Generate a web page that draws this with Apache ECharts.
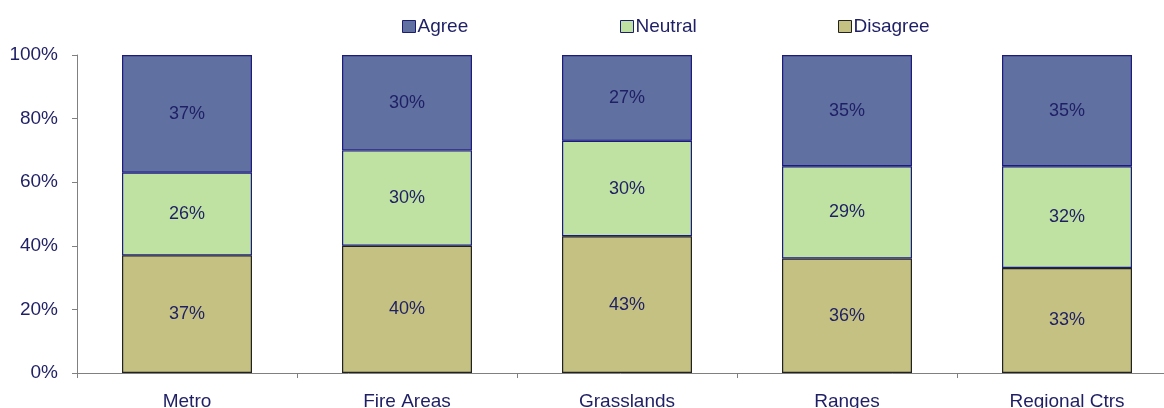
<!DOCTYPE html>
<html>
<head>
<meta charset="utf-8">
<script src="https://cdn.jsdelivr.net/npm/echarts@6/dist/echarts.min.js"></script>
<style>
  html, body { margin: 0; padding: 0; background: #fff; }
  #main { width: 1164px; height: 408px; }
</style>
</head>
<body>
<div id="main"></div>
<script>
// data
var categories = ['Metro', 'Fire Areas', 'Grasslands', 'Ranges', 'Regional Ctrs'];
var disagree = [37, 40, 43, 36, 33];
var neutral = [26, 30, 30, 29, 32];
var agree = [37, 30, 27, 35, 35];
var yTicks = [0, 20, 40, 60, 80, 100];

var textColor = '#1f1f66';
var font = 'Liberation Sans, Arial, sans-serif';

var myChart = echarts.init(document.getElementById('main'));

function legendAt(name, left, border) {
    return {
        data: [{ name: name, itemStyle: { borderColor: border, borderWidth: 1 } }],
        left: left,
        top: 17,
        padding: 0,
        icon: 'rect',
        itemWidth: 13,
        itemHeight: 12,
        itemGap: 2,
        textStyle: { color: textColor, fontSize: 19, fontFamily: font, padding: [0, 0, 0, -3] }
    };
}

function barSeries(name, data, color, border) {
    return {
        name: name,
        type: 'bar',
        stack: 'total',
        barWidth: 130,
        data: data,
        itemStyle: { color: color, borderColor: border, borderWidth: 1.2 },
        label: {
            show: true,
            position: 'inside',
            formatter: '{c}%',
            color: textColor,
            fontSize: 18,
            fontFamily: font
        }
    };
}

var option = {
    animation: false,
    legend: [
        legendAt('Agree', 402, '#1c1c70'),
        legendAt('Neutral', 620, '#1c1c70'),
        legendAt('Disagree', 838, '#222')
    ],
    // the plot runs past the right edge of the picture
    grid: { left: 77, width: 1100, top: 55, bottom: 35, containLabel: false, outerBoundsMode: 'none' },
    xAxis: {
        type: 'category',
        data: categories,
        axisLine: { lineStyle: { color: '#808080' } },
        axisTick: { show: true, length: 5, lineStyle: { color: '#808080' } },
        axisLabel: { color: textColor, fontSize: 19, fontFamily: font, margin: 19 }
    },
    yAxis: {
        type: 'value',
        min: yTicks[0],
        max: yTicks[yTicks.length - 1],
        interval: 20,
        axisLine: { show: true, lineStyle: { color: '#808080' } },
        axisTick: { show: true, length: 5, lineStyle: { color: '#808080' } },
        splitLine: { show: false },
        axisLabel: { color: textColor, fontSize: 19, fontFamily: font, margin: 19, formatter: '{value}%' }
    },
    series: [
        barSeries('Disagree', disagree, '#c4c182', '#222'),
        barSeries('Neutral', neutral, '#bfe2a2', '#1c1c80'),
        barSeries('Agree', agree, '#6070a0', '#1c1c80')
    ]
};

myChart.setOption(option);
</script>
</body>
</html>
